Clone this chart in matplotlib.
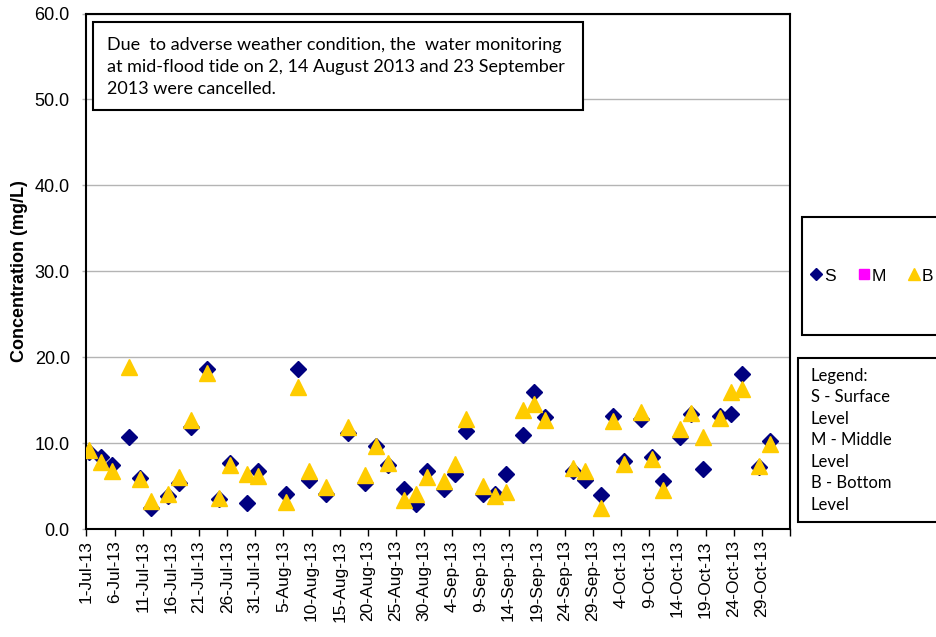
import matplotlib
matplotlib.use("Agg")
import matplotlib.pyplot as plt
from matplotlib.lines import Line2D
from matplotlib.patches import Rectangle
import pandas as pd

sample_dates = [
    "2013-07-01", "2013-07-03", "2013-07-05", "2013-07-08", "2013-07-10", "2013-07-12",
    "2013-07-15", "2013-07-17", "2013-07-19", "2013-07-22", "2013-07-24", "2013-07-26",
    "2013-07-29", "2013-07-31",
    "2013-08-05", "2013-08-07", "2013-08-09", "2013-08-12", "2013-08-16", "2013-08-19",
    "2013-08-21", "2013-08-23", "2013-08-26", "2013-08-28", "2013-08-30",
    "2013-09-02", "2013-09-04", "2013-09-06", "2013-09-09", "2013-09-11", "2013-09-13",
    "2013-09-16", "2013-09-18", "2013-09-20", "2013-09-25", "2013-09-27", "2013-09-30",
    "2013-10-02", "2013-10-04", "2013-10-07", "2013-10-09", "2013-10-11", "2013-10-14",
    "2013-10-16", "2013-10-18", "2013-10-21", "2013-10-23", "2013-10-25", "2013-10-28",
    "2013-10-30",
]

surface = [
    9.0, 8.4, 7.4, 10.7, 5.9, 2.5, 3.8, 5.3, 11.9, 18.6, 3.5, 7.7, 3.0, 6.8,
    4.1, 18.6, 5.7, 4.1, 11.2, 5.4, 9.7, 7.5, 4.7, 2.9, 6.7,
    4.7, 6.4, 11.4, 4.1, 4.1, 6.4, 10.9, 16.0, 13.0, 6.8, 5.7, 4.0,
    13.1, 7.9, 12.8, 8.4, 5.6, 10.7, 13.4, 7.0, 13.1, 13.4, 18.1, 7.2, 10.3,
]

bottom = [
    9.2, 7.8, 6.8, 18.8, 5.8, 3.3, 4.1, 6.1, 12.7, 18.2, 3.6, 7.4, 6.4, 6.2,
    3.2, 16.5, 6.7, 4.9, 11.9, 6.3, 9.7, 7.7, 3.4, 4.1, 6.1,
    5.6, 7.6, 12.8, 5.0, 3.9, 4.3, 13.8, 14.5, 12.7, 7.1, 6.8, 2.5,
    12.6, 7.6, 13.6, 8.2, 4.6, 11.6, 13.5, 10.7, 12.9, 15.9, 16.3, 7.3, 9.9,
]

note_text = ("Due  to adverse weather condition, the  water monitoring\n"
             "at mid-flood tide on 2, 14 August 2013 and 23 September\n"
             "2013 were cancelled.")
legend_note = "Legend:\nS - Surface\nLevel\nM - Middle\nLevel\nB - Bottom\nLevel"

plt.rcParams["font.family"] = ["Liberation Sans", "DejaVu Sans"]

W, H = 936, 637


def fig_box(x0, y0, x1, y1):
    # pixel box (top-left origin) -> figure fraction rectangle
    return Rectangle((x0 / W, 1 - y1 / H), (x1 - x0) / W, (y1 - y0) / H,
                     transform=fig.transFigure, facecolor="white",
                     edgecolor="black", linewidth=1.5, zorder=5)


# points sit in the middle of each day, like the spreadsheet chart
x = pd.to_datetime(sample_dates) + pd.Timedelta(hours=12)

fig = plt.figure(figsize=(W / 100, H / 100), dpi=100)
ax = fig.add_axes([0.0924, 0.1695, 0.7516, 0.8093])

ax.plot(x, surface, linestyle="none", marker="D", markersize=8,
        color="#000080", zorder=3)
ax.plot(x, bottom, linestyle="none", marker="^", markersize=11,
        color="#FFCC00", zorder=4)

start = pd.Timestamp("2013-07-01")
end = pd.Timestamp("2013-11-03")
ticks = pd.date_range(start, end, freq="5D")
ax.set_xlim(start, end)
ax.set_xticks(ticks)
ax.set_xticklabels([f"{d.day}-{d:%b-%y}" for d in ticks[:-1]] + [""],
                   rotation=90, fontsize=12.5)

ax.set_ylim(0, 60)
ax.set_yticks(range(0, 61, 10))
ax.set_yticklabels([f"{v:.1f}" for v in range(0, 61, 10)], fontsize=13)
ax.set_ylabel("Concentration (mg/L)", fontsize=13, fontweight="bold", labelpad=5)

ax.yaxis.grid(True, color="#B4B4B4", linewidth=1)
ax.set_axisbelow(True)
for side in ax.spines.values():
    side.set_linewidth(1.5)
    side.set_color("black")
ax.tick_params(axis="x", length=5, width=1, pad=3)
ax.tick_params(axis="y", length=3, width=1, color="#B4B4B4", pad=9)

# note box inside the plot
fig.patches.append(fig_box(93, 22, 583, 110))
fig.text(107 / W, 1 - 37 / H, note_text, va="top", ha="left", fontsize=13,
         family="Lato", linespacing=1.48, zorder=6)

# legend boxes on the right
fig.patches.append(fig_box(802, 217, 942, 335))
fig.patches.append(fig_box(798, 358, 942, 522))

handles = [
    Line2D([], [], linestyle="none", marker="D", markersize=6, color="#000080"),
    Line2D([], [], linestyle="none", marker="s", markersize=7.5, color="#FF00FF"),
    Line2D([], [], linestyle="none", marker="^", markersize=8.5, color="#FFCC00"),
]
fig.legend(handles, ["S", "M", "B"], loc="center",
           bbox_to_anchor=(872 / W, 1 - 276 / H), ncol=3, frameon=False,
           fontsize=12.5, handlelength=0.6, handletextpad=0.15,
           columnspacing=1.3)

fig.text(811 / W, 1 - 368 / H, legend_note, va="top", ha="left",
         fontsize=12, family="Lato", linespacing=1.42, zorder=6)

fig.savefig("out.png", dpi=100)
